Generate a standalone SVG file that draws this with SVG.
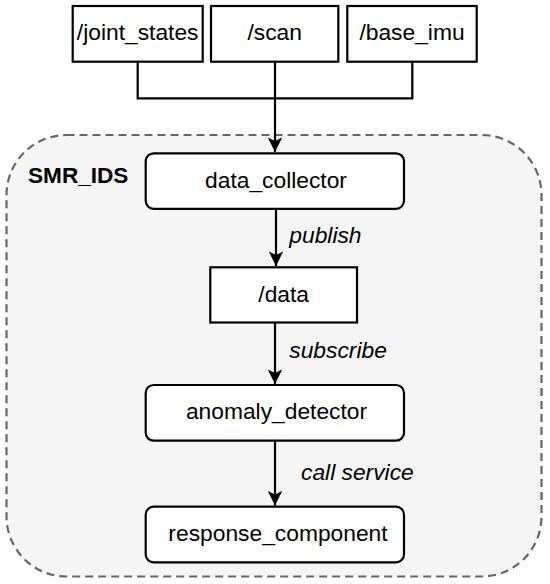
<svg xmlns="http://www.w3.org/2000/svg" width="550" height="584" viewBox="0 0 550 584">
<defs>
<style>
.box{fill:#ffffff;stroke:#000000;stroke-width:2.2}
.t{font-family:"Liberation Sans",Arial,sans-serif;font-size:22.8px;fill:#000000;text-anchor:middle}
.lbl{font-family:"Liberation Sans",Arial,sans-serif;font-size:22.8px;font-style:italic;fill:#000000}
.edge{fill:none;stroke:#000000;stroke-width:2.2}
</style>
<marker id="arr" viewBox="0 0 20 20" markerWidth="17" markerHeight="17" refX="18" refY="10" orient="auto" markerUnits="userSpaceOnUse">
<path d="M18,10 L1,1.5 L5,10 L1,18.5 Z" fill="#000000"/>
</marker>
</defs>
<rect width="550" height="584" fill="#ffffff"/>
<g id="SMR_IDS">
<rect x="6.5" y="135" width="535" height="441.5" rx="60" ry="60" fill="#f5f5f5" stroke="#666666" stroke-width="2.2" stroke-dasharray="8,5"/>
<text x="28" y="183.3" font-family="'Liberation Sans',Arial,sans-serif" font-size="22.6px" font-weight="bold" fill="#000000">SMR_IDS</text>
</g>
<g id="joint_states">
<rect class="box" x="72.7" y="6" width="130" height="55.7"/>
<text class="t" x="137.7" y="40">/joint_states</text>
</g>
<g id="scan">
<rect class="box" x="211" y="6" width="127.3" height="55.7"/>
<text class="t" x="274.7" y="40">/scan</text>
</g>
<g id="base_imu">
<rect class="box" x="347.3" y="6" width="129.4" height="55.7"/>
<text class="t" x="412" y="40">/base_imu</text>
</g>
<g id="data_collector">
<rect class="box" x="145.7" y="153.3" width="258.3" height="55.5" rx="8" ry="8"/>
<text class="t" x="276" y="188.3">data_collector</text>
</g>
<g id="data">
<rect class="box" x="210.3" y="267.3" width="146.7" height="55.2"/>
<text class="t" x="283.7" y="301.7">/data</text>
</g>
<g id="anomaly_detector">
<rect class="box" x="145.7" y="385" width="258.3" height="55.7" rx="8" ry="8"/>
<text class="t" x="276.5" y="419.3">anomaly_detector</text>
</g>
<g id="response_component">
<rect class="box" x="145.7" y="506.7" width="258.3" height="55.6" rx="8" ry="8"/>
<text class="t" x="278" y="540.7">response_component</text>
</g>
<g id="connectors">
<path class="edge" d="M137.7,61.7 V98.3 H412.3 V61.7"/>
<path class="edge" d="M275,61.7 V152" marker-end="url(#arr)"/>
<path class="edge" d="M276,208.8 V266" marker-end="url(#arr)"/>
<text class="lbl" x="289.3" y="243.3">publish</text>
<path class="edge" d="M275,322.5 V384" marker-end="url(#arr)"/>
<text class="lbl" x="289.3" y="358.3">subscribe</text>
<path class="edge" d="M275,440.7 V505.5" marker-end="url(#arr)"/>
<text class="lbl" x="301" y="480">call service</text>
</g>
</svg>
